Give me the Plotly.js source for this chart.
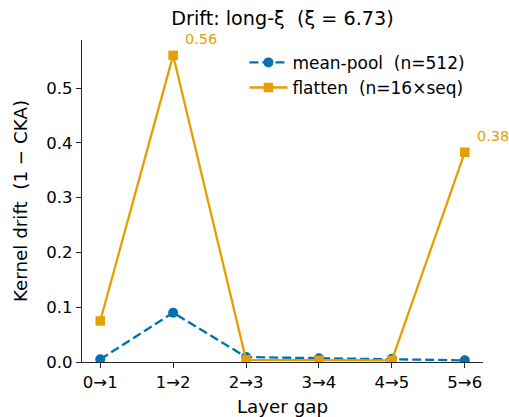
<!DOCTYPE html>
<html><head><meta charset="utf-8">
<script src="https://cdn.plot.ly/plotly-3.0.1.min.js"></script>
<style>html,body{margin:0;padding:0;background:#fff}#c{width:509px;height:417px}</style>
</head><body><div id="c"></div>
<script>
const categories = ["0\u21921","1\u21922","2\u21923","3\u21924","4\u21925","5\u21926"];
const meanPool = [0.005, 0.090, 0.009, 0.007, 0.006, 0.003];
const flatten = [0.075, 0.560, 0.004, 0.003, 0.003, 0.383];
const labelsFlatten = ["", "0.56", "", "", "", "0.38"];

const blue = "#0072B2", orange = "#E69F00";
const F = "DejaVu Sans, sans-serif";

const traces = [
  {x: categories, y: meanPool, name: "mean-pool  (n=512)", mode: "lines+markers",
   line: {color: blue, width: 2.3, dash: "9px,4px"}, marker: {symbol: "circle", size: 10, color: blue}},
  {x: categories, y: flatten, name: "flatten  (n=16\u00d7seq)", mode: "lines+markers",
   line: {color: orange, width: 2.3}, marker: {symbol: "square", size: 9.5, color: orange}}
];

const annotations = [];
labelsFlatten.forEach((t, i) => {
  if (t) annotations.push({x: categories[i], y: flatten[i], text: t, showarrow: false,
    xanchor: "left", yanchor: "middle", xshift: 10, yshift: 16,
    font: {family: F, size: 14.5, color: orange}});
});

const layout = {
  width: 509, height: 417,
  margin: {l: 82, r: 26, t: 40, b: 55},
  paper_bgcolor: "#fff", plot_bgcolor: "#fff",
  font: {family: F, color: "#000"},
  title: {text: "Drift: long-\u03be  (\u03be = 6.73)", font: {family: F, size: 19.2, color: "#000"},
          x: 0.555, xanchor: "center", y: 0.955, yanchor: "middle"},
  xaxis: {type: "category", range: [-0.25, 5.25], showgrid: false, zeroline: false,
          showline: true, linecolor: "#262626", linewidth: 1.2, ticks: "outside", ticklen: 5,
          tickcolor: "#262626", tickfont: {family: F, size: 16.5, color: "#000"},
          title: {text: "Layer gap", font: {family: F, size: 18.3, color: "#000"}, standoff: 16}},
  yaxis: {range: [0, 0.588], showgrid: false, zeroline: false, showline: true, linecolor: "#262626",
          linewidth: 1.2, ticks: "outside", ticklen: 5, tickcolor: "#262626", tickformat: ".1f",
          dtick: 0.1, tickfont: {family: F, size: 16.5, color: "#000"},
          title: {text: "Kernel drift  (1 \u2212 CKA)", font: {family: F, size: 18.3, color: "#000"}, standoff: 13}},
  showlegend: true,
  legend: {x: 0.405, y: 0.985, xanchor: "left", yanchor: "top", bgcolor: "rgba(255,255,255,0)",
           font: {family: F, size: 17, color: "#000"}, itemwidth: 38, tracegroupgap: 2},
  annotations: annotations
};

Plotly.newPlot("c", traces, layout, {staticPlot: true, displayModeBar: false});
</script></body></html>
